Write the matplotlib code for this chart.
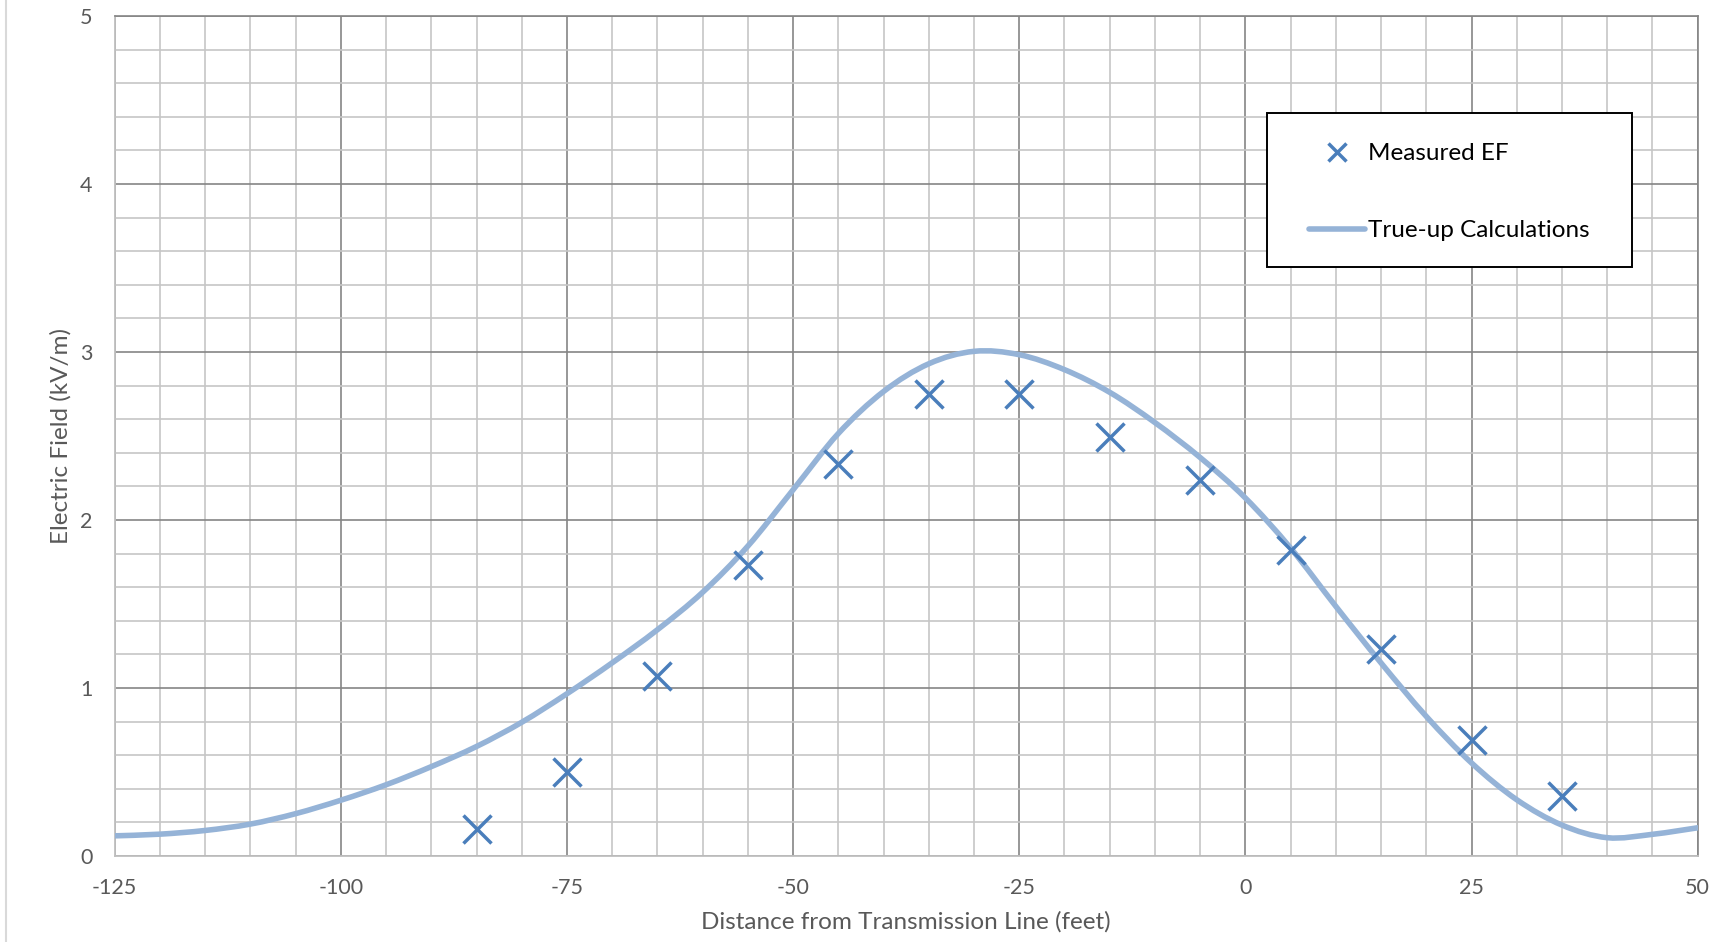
import numpy as np
import matplotlib
matplotlib.use("Agg")
import matplotlib.pyplot as plt
from matplotlib.path import Path
from matplotlib.patches import PathPatch, Rectangle
from matplotlib.lines import Line2D
from matplotlib.ticker import MultipleLocator

# ---- data ----
measured_x = [-85, -75, -65, -55, -45, -35, -25, -15, -5, 5, 15, 25, 35]
measured_y = [0.16, 0.50, 1.07, 1.734, 2.333, 2.75, 2.75, 2.494, 2.236, 1.819, 1.232, 0.692, 0.359]

calc_x = [-125, -120, -115, -110, -105, -100, -95, -90, -85, -80, -75, -70,
          -65, -60, -55, -50, -45, -40, -35, -30, -25, -20, -15, -10,
          -5, 0, 5, 10, 15, 20, 25, 30, 35, 40, 45, 50]
calc_y = [0.12, 0.13, 0.152, 0.19, 0.252, 0.332, 0.424, 0.532, 0.652, 0.796, 0.966, 1.15,
          1.347, 1.57, 1.845, 2.18, 2.515, 2.765, 2.93, 3.004, 2.984, 2.895, 2.76, 2.58,
          2.372, 2.131, 1.833, 1.486, 1.149, 0.831, 0.554, 0.335, 0.184, 0.109, 0.129, 0.168]

x_ticks = [-125, -100, -75, -50, -25, 0, 25, 50]
y_ticks = [0, 1, 2, 3, 4, 5]

label_measured = "Measured EF"
label_calc = "True-up Calculations"
xlabel = "Distance from Transmission Line (feet)"
ylabel = "Electric Field (kV/m)"

# ---- style ----
plt.rcParams['font.family'] = ['Lato', 'DejaVu Sans']
marker_color = "#4A7EBB"
line_color = "#95B3D7"
tick_color = "#595959"

fig = plt.figure(figsize=(17.33, 9.42), dpi=100)
ax = fig.add_axes([0.0662, 0.0913, 0.9796 - 0.0662, 0.983 - 0.0913])

ax.set_xlim(-125, 50)
ax.set_ylim(0, 5)
ax.xaxis.set_major_locator(MultipleLocator(25))
ax.xaxis.set_minor_locator(MultipleLocator(5))
ax.yaxis.set_major_locator(MultipleLocator(1))
ax.yaxis.set_minor_locator(MultipleLocator(0.2))
ax.set_xticks(x_ticks)
ax.set_yticks(y_ticks)
ax.set_xticklabels([str(v) for v in x_ticks])
ax.set_yticklabels([str(v) for v in y_ticks])

ax.grid(which='minor', color='#c6c6c6', linewidth=1.2)
ax.grid(which='major', color='#858585', linewidth=1.2)
ax.set_axisbelow(True)
ax.tick_params(which='both', length=0)
ax.tick_params(axis='x', pad=16, labelsize=15.5, labelcolor=tick_color)
ax.tick_params(axis='y', pad=16, labelsize=15.5, labelcolor=tick_color)

for s in ['left', 'bottom']:
    ax.spines[s].set_color('#bfbfbf')
    ax.spines[s].set_linewidth(1.3)
for s in ['right', 'top']:
    ax.spines[s].set_color('#858585')
    ax.spines[s].set_linewidth(1.2)

# smooth curve (Excel-like smoothed line through calc points)
xs = np.asarray(calc_x, float)
ys = np.asarray(calc_y, float)
pts = np.column_stack([xs, ys])
verts = [pts[0]]
codes = [Path.MOVETO]
n = len(pts)
for i in range(n - 1):
    p0 = pts[i - 1] if i > 0 else pts[i]
    p1 = pts[i]
    p2 = pts[i + 1]
    p3 = pts[i + 2] if i + 2 < n else pts[i + 1]
    c1 = p1 + (p2 - p0) / 6.0
    c2 = p2 - (p3 - p1) / 6.0
    verts += [c1, c2, p2]
    codes += [Path.CURVE4] * 3
curve = PathPatch(Path(verts, codes), facecolor='none', edgecolor=line_color,
                  linewidth=4.0, capstyle='round', joinstyle='round', zorder=3)
ax.add_patch(curve)

ax.plot(measured_x, measured_y, linestyle='none', marker='x', markersize=20,
        markeredgewidth=2.5, color=marker_color, zorder=4)

ax.set_xlabel(xlabel, fontsize=17.5, color=tick_color)
ax.set_ylabel(ylabel, fontsize=17.5, color=tick_color)
ax.xaxis.set_label_coords(0.5, -0.066)
ax.yaxis.set_label_coords(-0.027, 0.5)

# legend
frame = Rectangle((0.728, 0.701), 0.9585 - 0.728, 0.8845 - 0.701, transform=ax.transAxes,
                  facecolor='white', edgecolor='black', linewidth=1.4, zorder=5)
ax.add_patch(frame)
handles = [Line2D([], [], linestyle='none', marker='x', markersize=13.5,
                  markeredgewidth=2.5, color=marker_color),
           Line2D([], [], color=line_color, linewidth=4.0, solid_capstyle='round')]
leg = ax.legend(handles, [label_measured, label_calc], loc='upper left',
                bbox_to_anchor=(0.7544, 0.8485), frameon=False, fontsize=17.5,
                borderpad=0, borderaxespad=0, handlelength=2.3,
                handletextpad=0.15, labelspacing=2.3)
leg.set_zorder(6)

# thin left border of the picture
fig.add_artist(Line2D([6.5 / 1733, 6.5 / 1733], [0, 1], transform=fig.transFigure,
                      color='#d9d9d9', linewidth=1.5))

fig.savefig("out.png", dpi=100, facecolor='white')
